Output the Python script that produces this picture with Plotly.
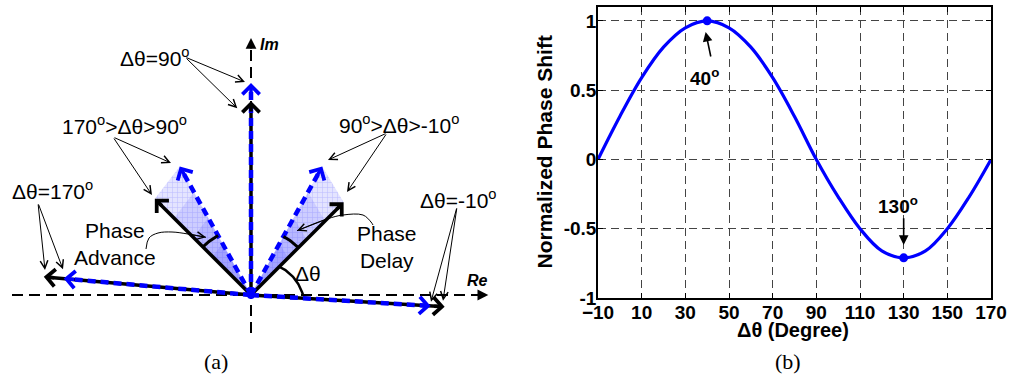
import numpy as np
import plotly.graph_objects as go

# ===== Panel (b) data =====
dtheta = [-10, 0, 10, 20, 30, 40, 50, 60, 70, 80, 90, 100, 110, 120, 130, 140, 150, 160, 170]
norm_phase_shift = [0.0, 0.31, 0.59, 0.81, 0.95, 1.0, 0.95, 0.81, 0.59, 0.31, 0.0,
                    -0.27, -0.50, -0.66, -0.71, -0.66, -0.50, -0.27, 0.0]
extrema_x = [40, 130]
extrema_y = [1.0, -0.71]
x_tickvals = [-10, 10, 30, 50, 70, 90, 110, 130, 150, 170]
y_tickvals = [-1, -0.5, 0, 0.5, 1]
y_ticktext = ["-1", "-0.5", "0", "0.5", "1"]

# ===== Panel (a) data: phasors (angle in degrees, length) =====
black_angle = [175, 135, 90, 45, -3.5]
black_len = [2.08, 1.36, 1.94, 1.31, 1.94]
blue_angle = [175, 119, 90, 61, -3.5]
blue_len = [1.88, 1.47, 2.12, 1.47, 1.80]
wedge_idx = [1, 3]

SANS = "Liberation Sans, Arial, Helvetica, sans-serif"
SERIF = "Liberation Serif, Times New Roman, serif"
BLUE = "#0000ff"
W, H = 1011, 376


def polar(a, r):
    return r * np.cos(np.radians(a)), r * np.sin(np.radians(a))


fig = go.Figure()
A = dict(xaxis="x2", yaxis="y2", hoverinfo="skip", showlegend=False)

# axes of the phasor diagram
fig.add_trace(go.Scatter(x=[-2.39, 2.30], y=[0, 0], mode="lines",
                         line=dict(color="black", width=2, dash="11px,6px"), **A))
fig.add_trace(go.Scatter(x=[0, 0], y=[-0.38, 2.48], mode="lines",
                         line=dict(color="black", width=2, dash="11px,6px"), **A))

# shaded wedges between phasors
for i in wedge_idx:
    bx, by = polar(black_angle[i], black_len[i])
    ux, uy = polar(blue_angle[i], blue_len[i])
    fig.add_trace(go.Scatter(x=[0, bx, ux, 0], y=[0, by, uy, 0], mode="lines", fill="toself",
                             line=dict(width=0), fillcolor="rgba(225,225,255,1)",
                             fillpattern=dict(shape="+", fgcolor="rgba(160,160,255,0.6)",
                                              bgcolor="rgba(228,228,255,1)", size=5, solidity=0.2),
                             **A))
    for s, op in [(0.8, 0.14), (0.6, 0.16), (0.4, 0.18)]:
        fig.add_trace(go.Scatter(x=[0, bx * s, ux * s, 0], y=[0, by * s, uy * s, 0], mode="lines",
                                 fill="toself", line=dict(width=0),
                                 fillcolor="rgba(70,70,255,%.2f)" % op, **A))

# black phasors
for a, r in zip(black_angle, black_len):
    ex, ey = polar(a, r - 0.04)
    fig.add_trace(go.Scatter(x=[0, ex], y=[0, ey], mode="lines",
                             line=dict(color="black", width=3.5), **A))
# blue dashed phasors
for a, r in zip(blue_angle, blue_len):
    ex, ey = polar(a, r - 0.04)
    fig.add_trace(go.Scatter(x=[0, ex], y=[0, ey], mode="lines",
                             line=dict(color=BLUE, width=4.5, dash="8px,5px"), **A))

# angle arcs
t = np.linspace(45, 0, 40)
rr = np.linspace(0.40, 0.52, 40)
fig.add_trace(go.Scatter(x=rr * np.cos(np.radians(t)), y=rr * np.sin(np.radians(t)), mode="lines",
                         line=dict(color="black", width=2.5), **A))
for a0, a1, r in [(blue_angle[1], black_angle[1], 0.68), (black_angle[3], blue_angle[3], 0.67)]:
    t = np.linspace(a0, a1, 30)
    fig.add_trace(go.Scatter(x=r * np.cos(np.radians(t)), y=r * np.sin(np.radians(t)), mode="lines",
                             line=dict(color="black", width=3), **A))

# leader curves
adv_x = [-1.05, -1.02, -0.93, -0.79, -0.63, -0.45]
adv_y = [0.46, 0.57, 0.62, 0.63, 0.61, 0.577]
del_x = [1.22, 1.20, 1.12, 0.92, 0.76, 0.46]
del_y = [0.70, 0.73, 0.80, 0.80, 0.76, 0.643]
for lx, ly in [(adv_x, adv_y), (del_x, del_y)]:
    fig.add_trace(go.Scatter(x=lx, y=ly, mode="lines", line=dict(color="black", width=1, shape="spline"), **A))

# origin dot
fig.add_trace(go.Scatter(x=[0], y=[0], mode="markers", marker=dict(color=BLUE, size=8), **A))

# ===== Panel (b) =====
fig.add_trace(go.Scatter(x=dtheta, y=norm_phase_shift, mode="lines",
                         line=dict(color=BLUE, width=3.2, shape="spline", smoothing=1.0),
                         hoverinfo="skip", showlegend=False, cliponaxis=False))
fig.add_trace(go.Scatter(x=extrema_x, y=extrema_y, mode="markers",
                         marker=dict(color=BLUE, size=9), hoverinfo="skip", showlegend=False))

ann = []
# phasor heads
for a, r in zip(black_angle, black_len):
    tx, ty = polar(a, r)
    sx, sy = polar(a, r - 0.12)
    ann.append(dict(x=tx, y=ty, ax=sx, ay=sy, xref="x2", yref="y2", axref="x2", ayref="y2",
                    showarrow=True, arrowhead=4, arrowwidth=3.5, arrowsize=0.95, arrowcolor="black", text=""))
for a, r in zip(blue_angle, blue_len):
    tx, ty = polar(a, r)
    sx, sy = polar(a, r - 0.12)
    ann.append(dict(x=tx, y=ty, ax=sx, ay=sy, xref="x2", yref="y2", axref="x2", ayref="y2",
                    showarrow=True, arrowhead=4, arrowwidth=3.5, arrowsize=0.95, arrowcolor=BLUE, text=""))
# diagram axis heads
for (tx, ty), (sx, sy) in [((2.373, 0), (2.25, 0)), ((0, 2.57), (0, 2.45))]:
    ann.append(dict(x=tx, y=ty, ax=sx, ay=sy, xref="x2", yref="y2", axref="x2", ayref="y2",
                    showarrow=True, arrowhead=2, arrowwidth=1.8, arrowsize=1.2, arrowcolor="black", text=""))

# thin pointer arrows
pointers = [((-0.66, 2.38), (-0.06, 2.13)), ((-0.66, 2.38), (-0.137, 1.867)),
            ((-1.38, 1.58), (-0.80, 1.32)), ((-1.38, 1.58), (-0.99, 1.00)),
            ((1.36, 1.62), (0.77, 1.35)), ((1.36, 1.62), (0.96, 1.03)),
            ((-2.13, 0.92), (-2.06, 0.25)), ((-2.13, 0.92), (-1.88, 0.257)),
            ((2.06, 0.88), (1.80, -0.067)), ((2.06, 0.88), (1.92, -0.057)),
            ((adv_x[-2], adv_y[-2]), (adv_x[-1], adv_y[-1])),
            ((del_x[-2], del_y[-2]), (del_x[-1], del_y[-1]))]
for (sx, sy), (tx, ty) in pointers:
    ann.append(dict(x=tx, y=ty, ax=sx, ay=sy, xref="x2", yref="y2", axref="x2", ayref="y2",
                    showarrow=True, arrowhead=5, arrowwidth=1, arrowsize=1.5, arrowcolor="black", text=""))

sup = "<sup>o</sup>"
labels = [("Δθ=90" + sup, -0.96, 2.38), ("170" + sup + "&gt;Δθ&gt;90" + sup, -1.27, 1.70),
          ("90" + sup + "&gt;Δθ&gt;-10" + sup, 1.48, 1.71), ("Δθ=170" + sup, -1.99, 1.05),
          ("Δθ=-10" + sup, 2.07, 0.96), ("Phase<br>Advance", -1.36, 0.51),
          ("Phase<br>Delay", 1.36, 0.48), ("Δθ", 0.57, 0.22)]
C = dict(xanchor="center", yanchor="middle", showarrow=False)
for txt, lx, ly in labels:
    ann.append(dict(x=lx, y=ly, xref="x2", yref="y2", text=txt, **C,
                    font=dict(family=SANS, size=21, color="black")))
ann.append(dict(x=0.18, y=2.51, xref="x2", yref="y2", text="<b><i>Im</i></b>", **C,
                font=dict(family=SANS, size=16, color="black")))
ann.append(dict(x=2.26, y=0.145, xref="x2", yref="y2", text="<b><i>Re</i></b>", **C,
                font=dict(family=SANS, size=16, color="black")))

# panel (b) annotations
ann.append(dict(x=39, y=0.595, xref="x", yref="y", text="<b>40" + sup + "</b>", **C,
                font=dict(family=SANS, size=19, color="black")))
ann.append(dict(x=39.3, y=0.92, ax=41.8, ay=0.732, xref="x", yref="y", axref="x", ayref="y",
                showarrow=True, arrowhead=2, arrowwidth=1.6, arrowsize=1.2, arrowcolor="black", text=""))
ann.append(dict(x=127.5, y=-0.33, xref="x", yref="y", text="<b>130" + sup + "</b>", **C,
                font=dict(family=SANS, size=19, color="black")))
ann.append(dict(x=130, y=-0.617, ax=130, ay=-0.413, xref="x", yref="y", axref="x", ayref="y",
                showarrow=True, arrowhead=2, arrowwidth=1.6, arrowsize=1.2, arrowcolor="black", text=""))

# axis titles and panel labels
ann.append(dict(x=544 / W, y=1 - 152.5 / H, xref="paper", yref="paper", text="<b>Normalized Phase Shift</b>",
                textangle=-90, **C, font=dict(family=SANS, size=21, color="black")))
ann.append(dict(x=793 / W, y=1 - 330 / H, xref="paper", yref="paper", text="<b>Δθ (Degree)</b>",
                **C, font=dict(family=SANS, size=20, color="black")))
ann.append(dict(x=216 / W, y=1 - 361 / H, xref="paper", yref="paper", text="(a)",
                **C, font=dict(family=SERIF, size=22, color="black")))
ann.append(dict(x=788 / W, y=1 - 361 / H, xref="paper", yref="paper", text="(b)",
                **C, font=dict(family=SERIF, size=22, color="black")))

tickfont = dict(family=SANS, size=19, color="black", weight="bold")
fig.update_layout(
    template="none",
    width=W, height=H, autosize=False, margin=dict(l=0, r=0, t=0, b=0, pad=0, autoexpand=False),
    paper_bgcolor="white", plot_bgcolor="white",
    xaxis=dict(domain=[598 / W, 991 / W], range=[-10, 170], tickvals=x_tickvals, automargin=False,
               showgrid=True, gridcolor="#444", griddash="8px,5px", gridwidth=1,
               zeroline=False, showline=True, linecolor="black", linewidth=1.8, mirror="ticks",
               ticks="inside", ticklen=5, tickcolor="black", tickfont=tickfont, anchor="y",
               ticklabelstandoff=-4),
    yaxis=dict(domain=[1 - 298 / H, 1 - 7 / H], range=[-1, 1.1], tickvals=y_tickvals, ticktext=y_ticktext,
               automargin=False,
               showgrid=True, gridcolor="#444", griddash="8px,5px", gridwidth=1,
               zeroline=False, showline=True, linecolor="black", linewidth=1.8, mirror="ticks",
               ticks="inside", ticklen=5, tickcolor="black", tickfont=tickfont, anchor="x",
               ticklabelstandoff=-4),
    xaxis2=dict(domain=[0, 505 / W], range=[-2.51, 2.54], visible=False, anchor="y2", automargin=False),
    yaxis2=dict(domain=[0, 1], range=[-0.81, 2.95], visible=False, anchor="x2", automargin=False),
    annotations=ann,
)

fig.write_html("out.html", config={"displayModeBar": False, "staticPlot": True},
               post_script="document.body.style.margin='0px';document.body.style.overflow='hidden';")
